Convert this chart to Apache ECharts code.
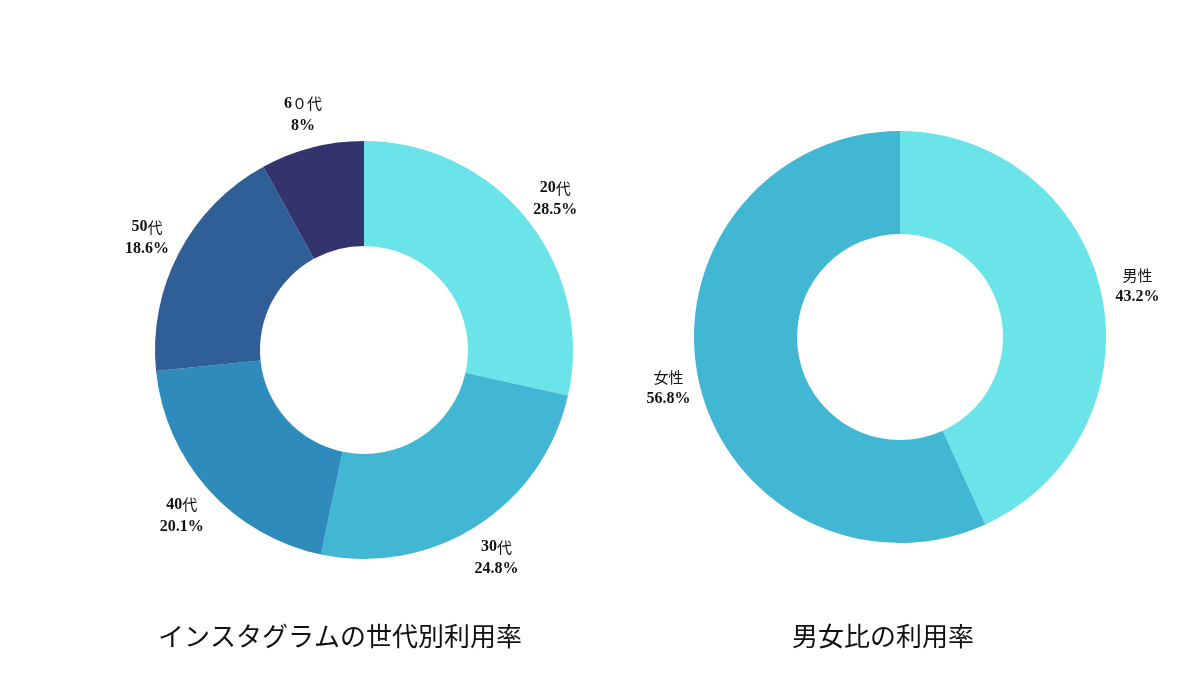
<!DOCTYPE html>
<html>
<head>
<meta charset="utf-8">
<script src="https://cdn.jsdelivr.net/npm/echarts@6/dist/echarts.min.js"></script>
<style>
  html, body { margin: 0; padding: 0; background: #fff; }
  #main { width: 1200px; height: 675px; }
</style>
</head>
<body>
<div id="main"></div>
<script>
// ===== data =====
var ageNames = ['20代', '30代', '40代', '50代', '6０代'];
var ageValues = [28.5, 24.8, 20.1, 18.6, 8];
var ageColors = ['#6ae4e8', '#42b7d4', '#2e8bbc', '#2f5f96', '#33346e'];

var sexNames = ['男性', '女性'];
var sexValues = [43.2, 56.8];
var sexColors = ['#6ae4e8', '#42b7d4'];

var titles = ['インスタグラムの世代別利用率', '男女比の利用率'];

var serifFont = '"Liberation Serif", "DejaVu Serif", serif';
var cjkFont = '"Noto Sans CJK JP", "Noto Sans", sans-serif';

function toData(names, values, colors) {
    return names.map(function (n, i) {
        return { name: n, value: values[i], itemStyle: { color: colors[i] } };
    });
}

// 数字は太いセリフ、漢字は普通のゴシック
function labelText(p) {
    var m = p.name.match(/^([0-9]*)(.*)$/);
    var s = '';
    if (m[1]) s += '{a|' + m[1] + '}';
    if (m[2]) s += '{k|' + m[2] + '}';
    return s + '\n{a|' + p.value + '%}';
}

var richStyle = {
    a: { fontFamily: serifFont, fontWeight: 'bold', fontSize: 16, color: '#111', lineHeight: 22 },
    k: { fontFamily: cjkFont, fontWeight: 'normal', fontSize: 15, color: '#111', lineHeight: 22 }
};

// 本体のドーナツ
function donut(center, radius, data) {
    return {
        type: 'pie',
        center: center,
        radius: radius,
        startAngle: 90,
        clockwise: true,
        silent: true,
        label: { show: false },
        labelLine: { show: false },
        data: data
    };
}

// ラベル用の透明リング（inside ラベルで中央寄せ）
function labelRing(center, radius, data) {
    return {
        type: 'pie',
        center: center,
        radius: radius,
        startAngle: 90,
        clockwise: true,
        silent: true,
        itemStyle: { color: 'rgba(0,0,0,0)' },
        label: {
            show: true,
            position: 'inside',
            formatter: labelText,
            rich: richStyle
        },
        labelLine: { show: false },
        data: data.map(function (d) { return { name: d.name, value: d.value }; })
    };
}

var chart = echarts.init(document.getElementById('main'));

var ageData = toData(ageNames, ageValues, ageColors);
var sexData = toData(sexNames, sexValues, sexColors);

var option = {
    backgroundColor: '#ffffff',
    animation: false,
    series: [
        donut([364, 350], [104, 209], ageData),
        labelRing([364, 352], [222, 262], ageData),
        donut([900, 337], [103, 206], sexData),
        labelRing([903, 337], [217, 257], sexData)
    ],
    graphic: [
        {
            type: 'text',
            x: 340, y: 636,
            style: {
                text: titles[0],
                font: '26px ' + cjkFont,
                fill: '#111',
                textAlign: 'center',
                textVerticalAlign: 'middle'
            }
        },
        {
            type: 'text',
            x: 883, y: 636,
            style: {
                text: titles[1],
                font: '26px ' + cjkFont,
                fill: '#111',
                textAlign: 'center',
                textVerticalAlign: 'middle'
            }
        }
    ]
};

chart.setOption(option);
</script>
</body>
</html>
